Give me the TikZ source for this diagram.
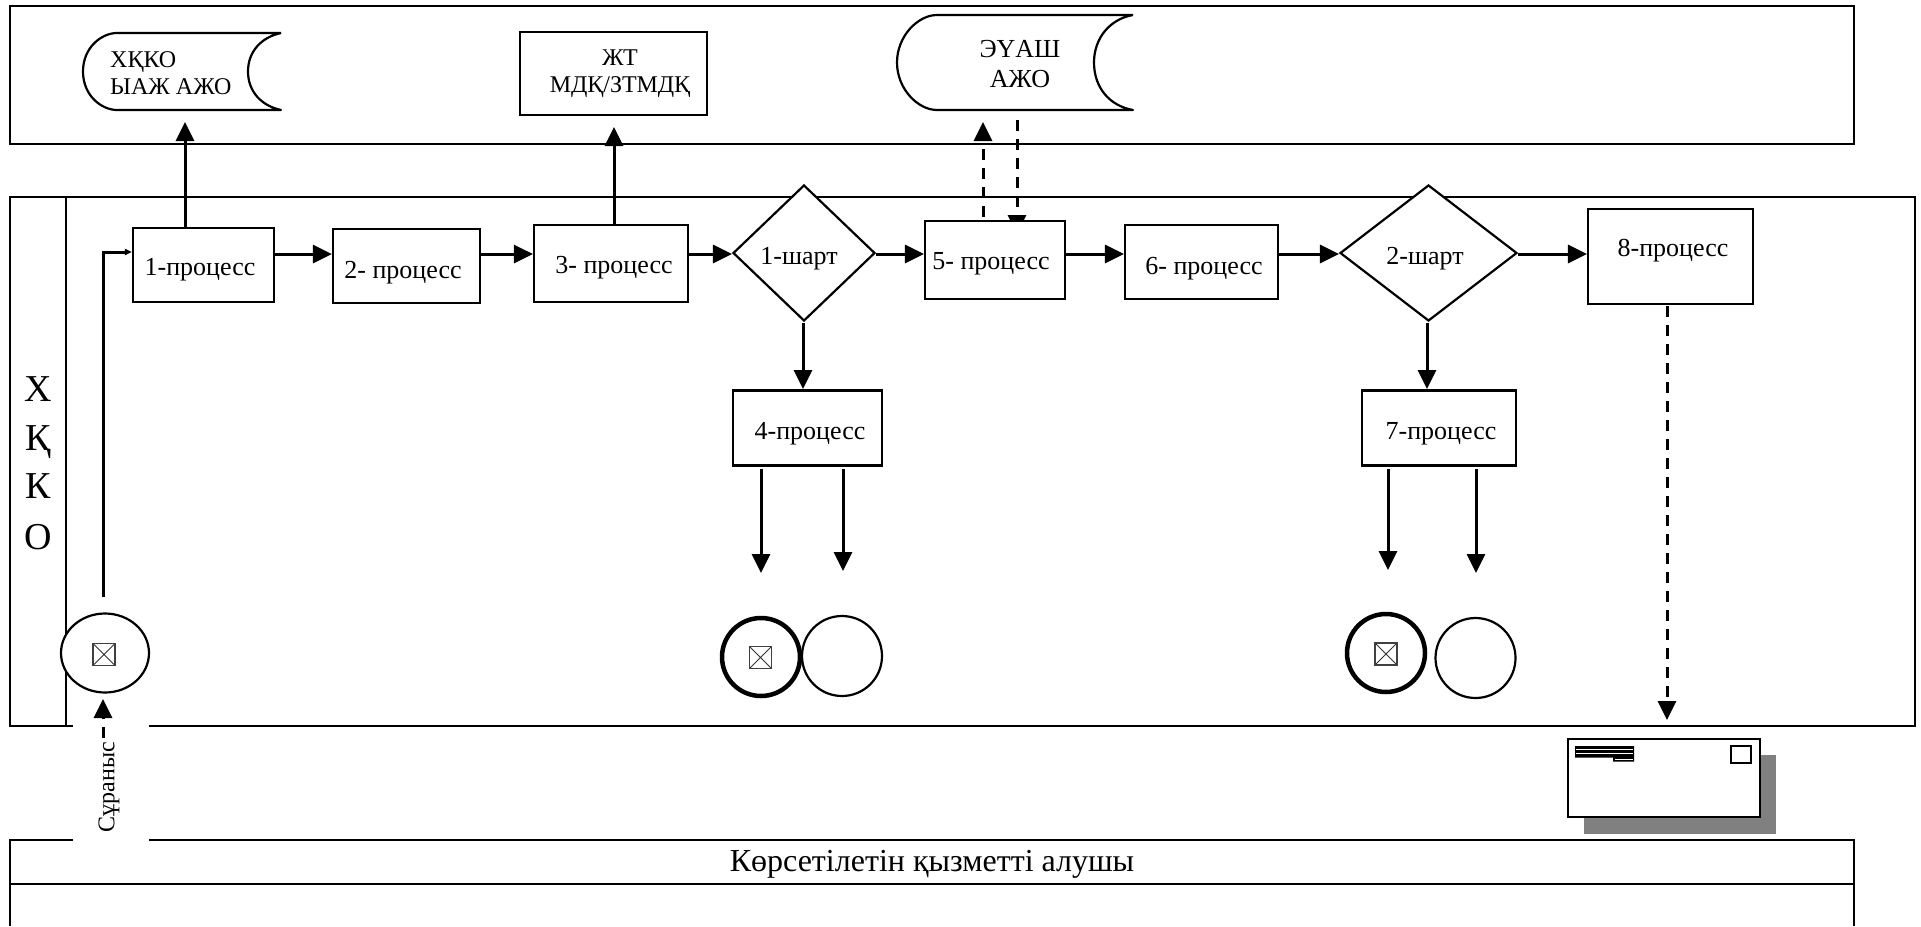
\documentclass[tikz,border=0pt]{standalone}
\usepackage{fontspec}
\setmainfont{Liberation Serif}
\usetikzlibrary{arrows.meta,shapes.geometric}
\tikzset{
  frame/.style={line width=2.4pt,draw=black},
  proc/.style={draw=black,fill=white,line width=2.2pt,inner sep=0pt,rectangle},
  cond/.style={draw=black,fill=white,line width=2.2pt,inner sep=0pt,diamond,aspect=1.06},
  lbl/.style={inner sep=0pt,font=\fontsize{26}{30}\selectfont},
  lblm/.style={inner sep=0pt,font=\fontsize{24}{27}\selectfont},
  lane/.style={inner sep=0pt,font=\fontsize{38}{42}\selectfont},
  flow/.style={line width=3pt,-{Triangle[width=18pt,length=19pt]}},
  dflow/.style={line width=3pt,dash pattern=on 11pt off 8pt,-{Triangle[width=18pt,length=19pt]}},
  doc/.style={draw=black,fill=white,line width=2.2pt,line join=round},
  evt/.style={circle,draw=black,fill=white,line width=2.2pt,inner sep=0pt,minimum size=80pt},
  evtb/.style={circle,draw=black,fill=white,line width=4.5pt,inner sep=0pt,minimum size=78pt},
  chk/.style={draw=black!75,line width=1.2pt,inner sep=0pt,minimum size=22pt,
    path picture={\draw[line width=.9pt,black!80]
      (path picture bounding box.north west)--(path picture bounding box.south east)
      (path picture bounding box.north east)--(path picture bounding box.south west);}}
}
\begin{document}
\begin{tikzpicture}[x=1pt,y=-1pt]
\useasboundingbox (0,0) rectangle (1921,926);
\fill[white] (0,0) rectangle (1921,926);
% frames
\draw[frame] (10,6) rectangle (1854,144);
\draw[frame] (10,197) rectangle (1915,726);
\draw[line width=1.8pt] (66,197)--(66,726);
\draw[frame] (10,926)--(10,840)--(1854,840)--(1854,926);
\draw[line width=2pt] (10,884)--(1854,884);
% gap for request label
\fill[white] (73,722) rectangle (149,844);
\coordinate (row) at (0,254);
% top-row documents
\draw[doc] (281,33)--(117,33) .. controls (102,33) and (83,47) .. (83,71.5)
  .. controls (83,96) and (102,110) .. (117,110) -- (281,110)
  .. controls (262,106) and (248,92) .. (248,71.5) .. controls (248,51) and (262,37) .. (281,33);
\node[lblm,align=left,anchor=west] (d1t) at (110,73.5) {ХҚКО\\ЫАЖ АЖО};
\node[proc,minimum width=187pt,minimum height=83pt] (d2) at (613.5,73.5) {};
\node[lblm,align=center] (d2t) at (620,73.5) {ЖТ\\МДҚ/ЗТМДҚ};
\draw[doc] (1133,15)--(937,15) .. controls (918,15) and (897,36) .. (897,62.5)
  .. controls (897,89) and (918,110) .. (937,110) -- (1133,110)
  .. controls (1110,106) and (1094,88) .. (1094,62.5) .. controls (1094,38) and (1110,19) .. (1133,15);
\node[inner sep=0pt,font=\fontsize{26}{30}\selectfont,align=center] (d3t) at (1020,64) {ЭҮАШ\\АЖО};
\coordinate (t1) at (185,122);
\coordinate (t2) at (614,127);
\coordinate (t3) at (983,122);
\coordinate (s3) at (1017,120);
\coordinate (h5) at (983,217);
\coordinate (a5) at (1017,234);
% dashed pair (behind box 5)
\draw[dflow] (h5)--(t3);
\draw[dflow] (s3)--(a5);
% nodes
\node[proc,minimum width=141pt,minimum height=74pt] (p1) at (203.5,265) {};
\node[proc,minimum width=147pt,minimum height=74pt] (p2) at (406.5,266) {};
\node[proc,minimum width=154pt,minimum height=77pt] (p3) at (611,263.5) {};
\node[cond,minimum width=142pt,minimum height=136pt] (c1) at (804,253) {};
\node[proc,minimum width=140pt,minimum height=78pt] (p5) at (995,260) {};
\node[proc,minimum width=153pt,minimum height=74pt] (p6) at (1201.5,262) {};
\node[cond,minimum width=177pt,minimum height=136pt] (c2) at (1428.5,253) {};
\node[proc,minimum width=165pt,minimum height=95pt] (p8) at (1670.5,256.5) {};
\node[proc,minimum width=149pt,minimum height=75pt] (p4) at (807.5,428) {};
\node[proc,minimum width=154pt,minimum height=75pt] (p7) at (1439,428) {};
% labels
\node[lbl] (p1t) at (200,269.5) {1-процесс};
\node[lbl] (p2t) at (403,272.5) {2- процесс};
\node[lbl] (p3t) at (614,267.5) {3- процесс};
\node[lbl] (c1t) at (799,258.5) {1-шарт};
\node[lbl] (p5t) at (991,263.5) {5- процесс};
\node[lbl] (p6t) at (1204,268.5) {6- процесс};
\node[lbl] (c2t) at (1425,258.5) {2-шарт};
\node[lbl] (p8t) at (1673,250.5) {8-процесс};
\node[lbl] (p4t) at (810,433.5) {4-процесс};
\node[lbl] (p7t) at (1441,433.5) {7-процесс};
% connectors
\coordinate (k1) at (803,0);
\coordinate (k2) at (1427,0);
\coordinate (k3) at (0,323);
\coordinate (k4) at (0,389);
\draw[flow] (p1.north -| t1)--(t1);
\draw[flow] (p3.north -| t2)--(t2);
\draw[flow] (p1.east |- row)--(p2.west |- row);
\draw[flow] (p2.east |- row)--(p3.west |- row);
\draw[flow] (p3.east |- row)--(c1.west |- row);
\draw[flow] (c1.east |- row)--(p5.west |- row);
\draw[flow] (p5.east |- row)--(p6.west |- row);
\draw[flow] (p6.east |- row)--(c2.west |- row);
\draw[flow] (c2.east |- row)--(p8.west |- row);
\draw[flow] (k1 |- k3)--(k1 |- k4);
\draw[flow] (k2 |- k3)--(k2 |- k4);
% entry
\coordinate (e0) at (103,597);
\coordinate (e1) at (103,252);
\draw[line width=3pt,-{Triangle[width=6pt,length=7pt]}] (e0)--(e1)--(p1.west |- e1);
% start event
\node[ellipse,draw=black,fill=white,line width=2.2pt,inner sep=0pt,minimum width=88pt,minimum height=79pt] (ev) at (105,653) {};
\node[chk] (evc) at (104,654.5) {};
\coordinate (r0) at (103,738);
\coordinate (r1) at (103,699);
\draw[dflow] (r0)--(r1);
\node[rotate=90,inner sep=0pt,font=\fontsize{24}{26}\selectfont] (req) at (109,787) {Сұраныс};
% end events 4
\coordinate (x1) at (761,469); \coordinate (x2) at (761,573);
\coordinate (x3) at (843,469); \coordinate (x4) at (843,571);
\draw[flow] (x1)--(x2);
\draw[flow] (x3)--(x4);
\node[evt] (o2) at (842,656) {};
\node[evtb] (o1) at (761,657) {};
\node[chk] (o1c) at (760.5,657.5) {};
% end events 7
\coordinate (y1) at (1388,469); \coordinate (y2) at (1388,570);
\coordinate (y3) at (1476,469); \coordinate (y4) at (1476,573);
\draw[flow] (y1)--(y2);
\draw[flow] (y3)--(y4);
\node[evt] (q2) at (1475.5,658) {};
\node[evtb] (q1) at (1386,653) {};
\node[chk] (q1c) at (1386,654) {};
% envelope
\coordinate (m0) at (1667,720);
\coordinate (m1) at (1667,306);
\draw[dflow] (m1)--(m0);
\fill[black!50] (1584,755) rectangle (1776,834);
\node[proc,minimum width=192pt,minimum height=78pt] (env) at (1664,778) {};
\node[draw=black,line width=1.8pt,fill=white,inner sep=0pt,minimum width=20pt,minimum height=17pt] (st) at (1741,754.5) {};
\fill[black] (1575,746) rectangle (1634,757.5) (1613,757) rectangle (1634,761.5);
\draw[white,line width=.5pt] (1576,749.5)--(1633,749.5) (1576,753)--(1633,753) (1615,759)--(1633,759);
% lane and footer text
\node[lane] (l1) at (38,389) {Х};
\node[lane] (l2) at (38,442) {Қ};
\node[lane] (l3) at (38,486) {К};
\node[lane] (l4) at (38,537) {О};
\node[inner sep=0pt,font=\fontsize{32}{36}\selectfont] (foot) at (932,864) {Көрсетілетін қызметті алушы};
\end{tikzpicture}
\end{document}
